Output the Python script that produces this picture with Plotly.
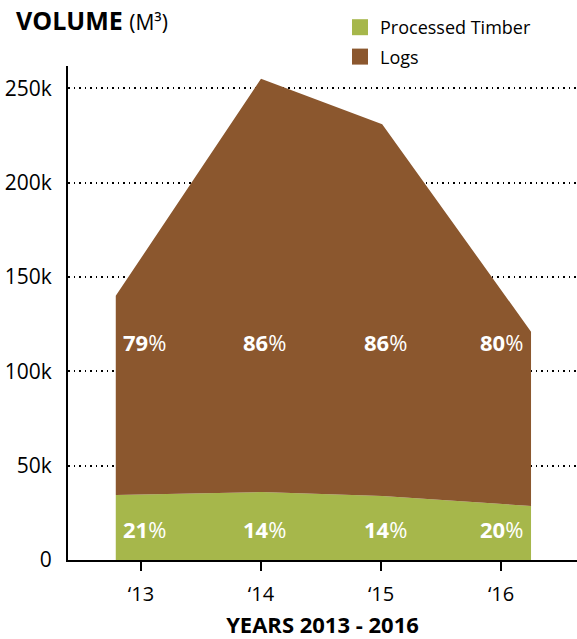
import plotly.graph_objects as go

# ---- data ----
YEARS = [2012.79, 2014.0, 2015.01, 2016.25]
TIMBER = [34.4, 36.0, 33.9, 28.6]          # thousand m3
LOGS = [105.6, 219.0, 197.0, 92.4]         # thousand m3
PCT_YEARS = [2013, 2014, 2015, 2016]
TIMBER_PCT = [21, 14, 14, 20]
LOGS_PCT = [79, 86, 86, 80]
TICK_YEARS = [2013, 2014, 2015, 2016]
TICK_LABELS = ["‘13", "‘14", "‘15", "‘16"]
Y_TICKS = [0, 50, 100, 150, 200, 250]
Y_LABELS = ["0", "50k", "100k", "150k", "200k", "250k"]

GREEN = "#A6B74B"
BROWN = "#8B572E"
FONT = "Open Sans"
LABEL_SHIFT = [4, 4, 4, 0]

fig = go.Figure()
fig.add_trace(go.Scatter(x=YEARS, y=TIMBER, stackgroup="one", mode="none",
                         fillcolor=GREEN, name="Processed Timber",
                         showlegend=False, hoverinfo="skip"))
fig.add_trace(go.Scatter(x=YEARS, y=LOGS, stackgroup="one", mode="none",
                         fillcolor=BROWN, name="Logs",
                         showlegend=False, hoverinfo="skip"))
# legend swatches
fig.add_trace(go.Scatter(x=[None], y=[None], mode="markers", name="Processed Timber",
                         legendgroup="a",
                         marker=dict(symbol="square", size=18, color=GREEN)))
fig.add_trace(go.Scatter(x=[None], y=[None], mode="markers", name="Logs",
                         legendgroup="b",
                         marker=dict(symbol="square", size=18, color=BROWN)))

for yr, p, s in zip(PCT_YEARS, LOGS_PCT, LABEL_SHIFT):
    fig.add_annotation(x=yr, y=115.5, text=f"<b>{p}</b>%", showarrow=False, xshift=s,
                       font=dict(family=FONT, size=22, color="white"))
for yr, p, s in zip(PCT_YEARS, TIMBER_PCT, LABEL_SHIFT):
    fig.add_annotation(x=yr, y=16.4, text=f"<b>{p}</b>%", showarrow=False, xshift=s,
                       font=dict(family=FONT, size=22, color="white"))

fig.add_annotation(xref="paper", yref="paper", x=(14 - 68) / 509, y=(560 - 20) / 494,
                   xanchor="left", yanchor="middle", showarrow=False,
                   text="<b>VOLUME</b> <span style='font-size:21px'>(M³)</span>",
                   font=dict(family=FONT, size=25, color="black"))

fig.update_layout(
    width=577, height=639,
    margin=dict(l=68, r=0, t=66, b=79),
    paper_bgcolor="white", plot_bgcolor="white",
    font=dict(family=FONT, color="black"),
    showlegend=True,
    legend=dict(x=(340 - 68) / 509, y=(560 - 9) / 494, xanchor="left", yanchor="top",
                font=dict(family=FONT, size=18, color="black"),
                bgcolor="rgba(0,0,0,0)", tracegroupgap=3, traceorder="grouped"),
    xaxis=dict(range=[2012.392, 2016.633], tickvals=TICK_YEARS, ticktext=TICK_LABELS,
               showgrid=False, zeroline=False, showline=True, linecolor="black",
               linewidth=2, ticks="outside", ticklen=9, tickwidth=1.5, tickcolor="black",
               ticklabelstandoff=6,
               tickfont=dict(family=FONT, size=20, color="black"),
               title=dict(text="<b>YEARS 2013 - 2016</b>", standoff=14,
                          font=dict(family=FONT, size=22, color="black"))),
    yaxis=dict(range=[0, 261.8], tickvals=Y_TICKS, ticktext=Y_LABELS,
               showgrid=True, gridcolor="black", gridwidth=1.5, griddash="1.5px,4px",
               zeroline=False, showline=True, linecolor="black", linewidth=2,
               ticks="", ticklabelstandoff=10,
               tickfont=dict(family=FONT, size=21, color="black")),
)

fig.write_html("out.html", config={"displayModeBar": False},
               post_script="document.body.style.margin='0';")
